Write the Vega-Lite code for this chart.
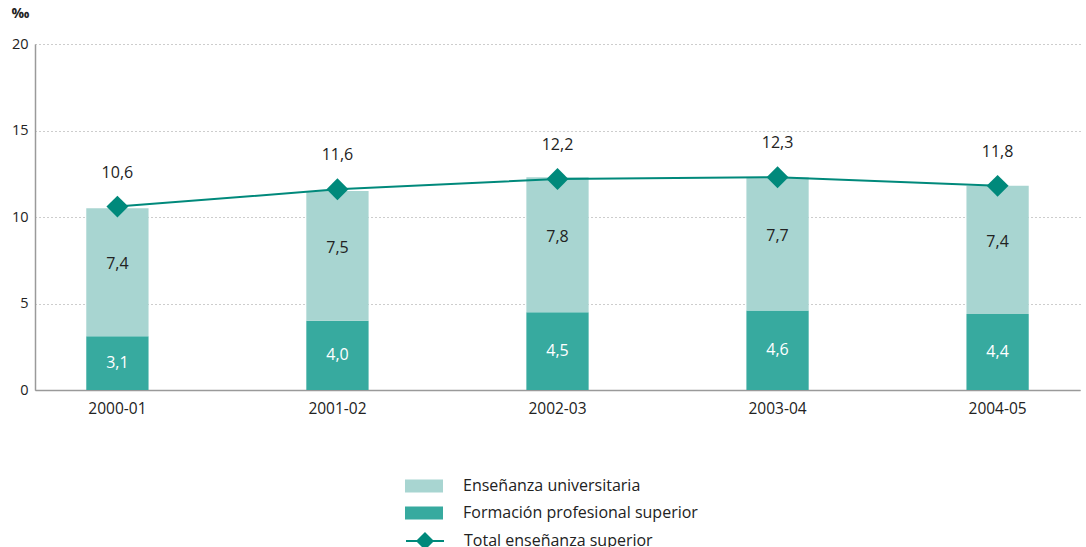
{
  "$schema": "https://vega.github.io/schema/vega-lite/v6.json",
  "width": 1045,
  "height": 346,
  "autosize": {"type": "none"},
  "padding": {"left": 35, "top": 44, "right": 6, "bottom": 157},
  "background": "white",
  "config": {
    "font": "Open Sans",
    "view": {"stroke": null},
    "locale": {"number": {"decimal": ",", "thousands": ".", "grouping": [3], "currency": ["", " €"]}}
  },
  "datasets": {
    "bars": [
      {"curso": "2000-01", "serie": "Formación profesional superior", "valor": 3.1},
      {"curso": "2000-01", "serie": "Enseñanza universitaria", "valor": 7.4},
      {"curso": "2001-02", "serie": "Formación profesional superior", "valor": 4.0},
      {"curso": "2001-02", "serie": "Enseñanza universitaria", "valor": 7.5},
      {"curso": "2002-03", "serie": "Formación profesional superior", "valor": 4.5},
      {"curso": "2002-03", "serie": "Enseñanza universitaria", "valor": 7.8},
      {"curso": "2003-04", "serie": "Formación profesional superior", "valor": 4.6},
      {"curso": "2003-04", "serie": "Enseñanza universitaria", "valor": 7.7},
      {"curso": "2004-05", "serie": "Formación profesional superior", "valor": 4.4},
      {"curso": "2004-05", "serie": "Enseñanza universitaria", "valor": 7.4}
    ],
    "total": [
      {"curso": "2000-01", "total": 10.6},
      {"curso": "2001-02", "total": 11.6},
      {"curso": "2002-03", "total": 12.2},
      {"curso": "2003-04", "total": 12.3},
      {"curso": "2004-05", "total": 11.8}
    ]
  },
  "encoding": {
    "x": {
      "field": "curso",
      "type": "nominal",
      "sort": null,
      "scale": {"paddingInner": 0.717, "paddingOuter": 0.233},
      "axis": {
        "title": null,
        "labelAngle": 0,
        "labelFontSize": 15.5,
        "labelColor": "#222222",
        "labelPadding": 11,
        "ticks": false,
        "domainColor": "#9a9a9a",
        "domainWidth": 1.5
      }
    }
  },
  "layer": [
    {
      "data": {"name": "bars"},
      "mark": {"type": "bar"},
      "encoding": {
        "y": {
          "field": "valor",
          "type": "quantitative",
          "stack": "zero",
          "scale": {"domain": [0, 20]},
          "axis": {
            "title": "‰",
            "titleAngle": 0,
            "titleX": -24,
            "titleY": -24,
            "titleAlign": "left",
            "titleFontSize": 14,
            "titleFontWeight": "bold",
            "titleColor": "#222222",
            "values": [0, 5, 10, 15, 20],
            "labelFontSize": 14.5,
            "labelColor": "#222222",
            "labelPadding": 7,
            "ticks": false,
            "domainColor": "#9a9a9a",
            "domainWidth": 1.5,
            "grid": true,
            "gridColor": "#9a9a9a",
            "gridDash": [1, 3],
            "gridWidth": 1
          }
        },
        "order": {"field": "serie", "sort": "descending"},
        "color": {
          "field": "serie",
          "type": "nominal",
          "scale": {
            "domain": ["Enseñanza universitaria", "Formación profesional superior"],
            "range": ["#a8d5d1", "#37aa9f"]
          },
          "legend": {
            "title": null,
            "orient": "none",
            "legendX": 370,
            "legendY": 423,
            "symbolType": "M-1,-0.34H1V0.34H-1Z",
            "symbolSize": 1444,
            "symbolStrokeWidth": 0,
            "labelFontSize": 16,
            "labelColor": "#222222",
            "labelOffset": 20,
            "labelLimit": 0,
            "rowPadding": -1
          }
        }
      }
    },
    {
      "data": {"name": "bars"},
      "transform": [
        {"stack": "valor", "groupby": ["curso"], "sort": [{"field": "serie", "order": "descending"}], "as": ["v0", "v1"]},
        {"calculate": "(datum.v0 + datum.v1) / 2", "as": "mid"},
        {"filter": "datum.serie == 'Formación profesional superior'"}
      ],
      "mark": {"type": "text", "fontSize": 16, "color": "white", "baseline": "middle"},
      "encoding": {
        "y": {"field": "mid", "type": "quantitative"},
        "text": {"field": "valor", "type": "quantitative", "format": ".1f"}
      }
    },
    {
      "data": {"name": "bars"},
      "transform": [
        {"stack": "valor", "groupby": ["curso"], "sort": [{"field": "serie", "order": "descending"}], "as": ["v0", "v1"]},
        {"calculate": "(datum.v0 + datum.v1) / 2", "as": "mid"},
        {"filter": "datum.serie == 'Enseñanza universitaria'"}
      ],
      "mark": {"type": "text", "fontSize": 16, "color": "#222222", "baseline": "middle", "dy": -8},
      "encoding": {
        "y": {"field": "mid", "type": "quantitative"},
        "text": {"field": "valor", "type": "quantitative", "format": ".1f"}
      }
    },
    {
      "data": {"name": "total"},
      "mark": {"type": "line", "strokeWidth": 2},
      "encoding": {
        "y": {"field": "total", "type": "quantitative"},
        "stroke": {
          "datum": "Total enseñanza superior",
          "type": "nominal",
          "scale": {"domain": ["Total enseñanza superior"], "range": ["#00897b"]},
          "legend": {
            "title": null,
            "orient": "none",
            "legendX": 370,
            "legendY": 477,
            "symbolType": "M-1,0H1M0,-0.4L0.4,0L0,0.4L-0.4,0Z",
            "symbolSize": 1444,
            "symbolStrokeWidth": 2,
            "symbolFillColor": "#00897b",
            "labelFontSize": 16,
            "labelColor": "#222222",
            "labelOffset": 19,
            "labelLimit": 0
          }
        }
      }
    },
    {
      "data": {"name": "total"},
      "mark": {"type": "point", "shape": "diamond", "size": 480, "filled": true, "opacity": 1, "color": "#00897b"},
      "encoding": {
        "y": {"field": "total", "type": "quantitative"}
      }
    },
    {
      "data": {"name": "total"},
      "mark": {"type": "text", "fontSize": 16, "color": "#222222", "baseline": "middle", "dy": -34},
      "encoding": {
        "y": {"field": "total", "type": "quantitative"},
        "text": {"field": "total", "type": "quantitative", "format": ".1f"}
      }
    }
  ]
}
